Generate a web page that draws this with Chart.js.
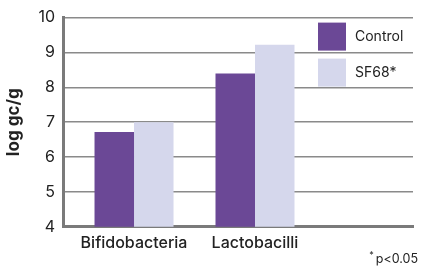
<!DOCTYPE html>
<html><head><meta charset="utf-8">
<script src="https://cdn.jsdelivr.net/npm/chart.js@4"></script>
<style>html,body{margin:0;padding:0;background:#fff}#wrap{width:421px;height:267px}</style>
</head><body><div id="wrap"><canvas id="c"></canvas></div>
<script>
const categories = ['Bifidobacteria', 'Lactobacilli'];
const seriesNames = ['Control', 'SF68*'];
const controlValues = [6.72, 8.4];
const sf68Values = [7.0, 9.22];
const yTicks = [4, 5, 6, 7, 8, 9, 10];
const footnoteMark = '*';
const footnoteText = 'p<0.05';
const colors = ['#6B4896', '#D5D7EC'];
const FONT = 'Inter, "Noto Sans", sans-serif';

const legendPlugin = {
  id: 'insideLegend',
  afterDatasetsDraw(chart) {
    const ctx = chart.ctx, a = chart.chartArea;
    ctx.save();
    chart.data.datasets.forEach((ds, i) => {
      const x = a.right - 95, y = a.top + 5 + i * 36;
      ctx.fillStyle = ds.backgroundColor;
      ctx.fillRect(x, y, 28, 28);
      ctx.fillStyle = '#222';
      ctx.font = '14px ' + FONT;
      ctx.textBaseline = 'middle';
      ctx.fillText(ds.label, x + 37, y + 14.5);
    });
    ctx.restore();
  },
  afterDraw(chart) {
    const ctx = chart.ctx;
    ctx.save();
    ctx.fillStyle = '#222';
    ctx.textBaseline = 'alphabetic';
    ctx.textAlign = 'right';
    ctx.font = '12.5px ' + FONT;
    const right = chart.width - 3;
    ctx.fillText(footnoteText, right, 263);
    const w = ctx.measureText(footnoteText).width;
    ctx.font = '9px ' + FONT;
    ctx.fillText(footnoteMark, right - w - 2, 258);
    ctx.restore();
  }
};

new Chart(document.getElementById('c'), {
  type: 'bar',
  data: {
    datasets: [
      { label: seriesNames[0], data: controlValues.map((v, i) => ({ x: i + 1, y: v })), backgroundColor: colors[0] },
      { label: seriesNames[1], data: sf68Values.map((v, i) => ({ x: i + 1, y: v })), backgroundColor: colors[1] }
    ]
  },
  options: {
    responsive: true, maintainAspectRatio: false, animation: false,
    layout: { padding: { top: 1, right: 8, left: 0, bottom: 7 } },
    categoryPercentage: 0.653, barPercentage: 1,
    plugins: { legend: { display: false }, tooltip: { enabled: false } },
    scales: {
      x: {
        type: 'linear', min: 0.413, max: 3.306, offset: false,
        afterBuildTicks: s => { s.ticks = categories.map((c, i) => ({ value: i + 1 })); },
        ticks: { callback: v => categories[v - 1], autoSkip: false, maxRotation: 0, color: '#222',
          font: { family: FONT, size: 16, weight: '500' }, padding: 7 },
        grid: { display: false, drawTicks: false },
        border: { display: true, color: '#7a7a7a', width: 3 }
      },
      y: {
        min: 4, max: 10,
        afterBuildTicks: s => { s.ticks = yTicks.map(v => ({ value: v })); },
        ticks: { color: '#222', font: { family: FONT, size: 16 }, padding: 8 },
        grid: { color: '#8a8a8a', lineWidth: 1.5, drawTicks: false },
        border: { display: true, color: '#7a7a7a', width: 3 },
        title: { display: true, text: 'log gc/g', color: '#222', font: { family: FONT, size: 17, weight: 'bold' }, padding: { bottom: 6 } }
      }
    }
  },
  plugins: [legendPlugin]
});
</script></body></html>
